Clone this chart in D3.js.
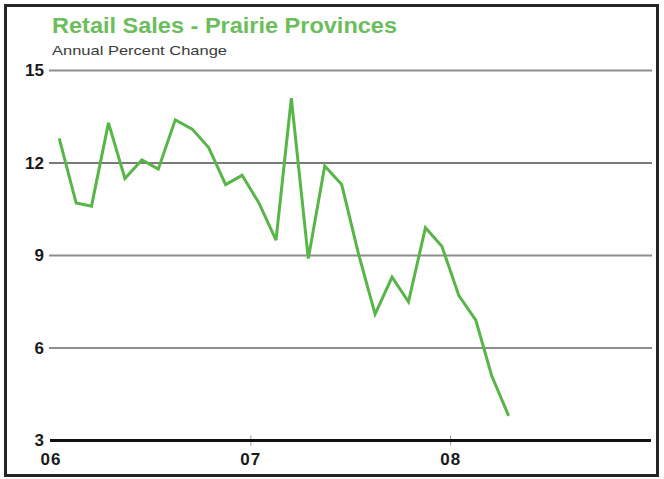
<!DOCTYPE html>
<html>
<head>
<meta charset="utf-8">
<script src="https://cdn.jsdelivr.net/npm/d3@7"></script>
<style>
  html, body { margin: 0; padding: 0; background: #fff; }
  svg { display: block; }
  text { font-family: "Liberation Sans", Arial, sans-serif; }
</style>
</head>
<body>
<svg id="chart" width="664" height="479"></svg>
<script>
// ---- data ----
const title = "Retail Sales - Prairie Provinces";
const subtitle = "Annual Percent Change";
const months = [
  "2006-01","2006-02","2006-03","2006-04","2006-05","2006-06","2006-07","2006-08","2006-09","2006-10","2006-11","2006-12",
  "2007-01","2007-02","2007-03","2007-04","2007-05","2007-06","2007-07","2007-08","2007-09","2007-10","2007-11","2007-12",
  "2008-01","2008-02","2008-03","2008-04"
];
const values = [
  12.8, 10.7, 10.6, 13.3, 11.5, 12.1, 11.8, 13.4, 13.1, 12.5, 11.3, 11.6,
  10.7, 9.5, 14.1, 8.9, 11.9, 11.3, 9.1, 7.1, 8.3, 7.5, 9.9, 9.3,
  7.7, 6.9, 5.1, 3.8
];
const yTicks = [3, 6, 9, 12, 15];
const xTickYears = ["2006", "2007", "2008"];
const xTickLabels = ["06", "07", "08"];

// ---- layout ----
const svg = d3.select("#chart");
const parseMonth = d3.timeParse("%Y-%m");
const midMonth = s => { const d = parseMonth(s); return new Date(d.getFullYear(), d.getMonth(), 16); };

const x = d3.scaleTime()
  .domain([new Date(2006, 0, 1), new Date(2009, 0, 1)])
  .range([51, 651]);
const y = d3.scaleLinear().domain([3, 15]).range([440.5, 70.5]);

// frame
svg.append("rect")
  .attr("x", 5.5).attr("y", 5.5).attr("width", 652).attr("height", 470)
  .attr("fill", "#fff").attr("stroke", "#262626").attr("stroke-width", 3);

// title
svg.append("text")
  .attr("x", 52).attr("y", 33)
  .attr("font-size", 22).attr("font-weight", "bold")
  .attr("fill", "#6cbd5c")
  .attr("textLength", 345).attr("lengthAdjust", "spacingAndGlyphs")
  .text(title);
svg.append("text")
  .attr("x", 52).attr("y", 54.5)
  .attr("font-size", 13.5)
  .attr("fill", "#3a3a3a")
  .attr("textLength", 175).attr("lengthAdjust", "spacingAndGlyphs")
  .text(subtitle);

// gridlines
const gridVals = yTicks.filter(v => v !== 3);
svg.append("g").selectAll("line").data(gridVals).join("line")
  .attr("x1", 49).attr("x2", 652)
  .attr("y1", d => y(d)).attr("y2", d => y(d))
  .attr("stroke", d => d === 12 ? "#7a7a7a" : "#8e8e8e")
  .attr("stroke-width", 2);

// y labels
svg.append("g").selectAll("text").data(yTicks).join("text")
  .attr("x", 44).attr("y", d => y(d))
  .attr("text-anchor", "end").attr("dominant-baseline", "central")
  .attr("font-size", 17).attr("font-weight", "bold").attr("fill", "#1a1a1a")
  .text(d => d);

// x tick marks
const yearDates = xTickYears.map(s => new Date(+s, 0, 1));
svg.append("g").selectAll("line").data(yearDates.slice(1)).join("line")
  .attr("x1", d => x(d)).attr("x2", d => x(d))
  .attr("y1", y(3) - 5).attr("y2", y(3) + 5)
  .attr("stroke", "#999").attr("stroke-width", 1);

// baseline
svg.append("line")
  .attr("x1", x(new Date(2006, 0, 1)) - 1).attr("x2", x(new Date(2009, 0, 1)))
  .attr("y1", y(3)).attr("y2", y(3))
  .attr("stroke", "#111").attr("stroke-width", 3.2);

// x labels
svg.append("g").selectAll("text").data(yearDates).join("text")
  .attr("x", d => x(d)).attr("y", 465)
  .attr("text-anchor", "middle")
  .attr("font-size", 17).attr("font-weight", "bold").attr("fill", "#1a1a1a")
  .attr("letter-spacing", 1)
  .text((d, i) => xTickLabels[i]);

// series line
const data = months.map((m, i) => ({ date: midMonth(m), value: values[i] }));
const line = d3.line().x(d => x(d.date)).y(d => y(d.value));
svg.append("path")
  .datum(data)
  .attr("d", line)
  .attr("fill", "none")
  .attr("stroke", "#58b548")
  .attr("stroke-width", 3)
  .attr("stroke-linejoin", "miter")
  .attr("stroke-miterlimit", 3);
</script>
</body>
</html>
